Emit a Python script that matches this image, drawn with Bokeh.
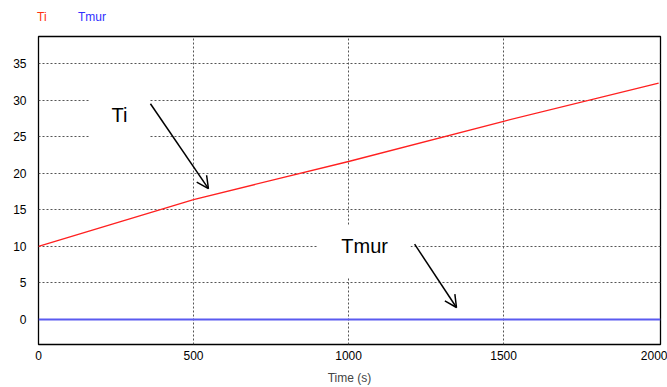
from bokeh.plotting import figure
from bokeh.models import Range1d, Label, Arrow, OpenHead, FixedTicker, Div
from bokeh.layouts import column
from bokeh.embed import file_html
from bokeh.resources import INLINE

# data
time_s = [0, 500, 1000, 1500, 2000]
ti_vals = [10.0, 16.4, 21.6, 27.1, 32.3]
tmur_time = [0, 2006]
tmur_vals = [0.0, 0.0]
x_ticks = [0, 500, 1000, 1500, 2000]
y_ticks = [0, 5, 10, 15, 20, 25, 30, 35]
series_names = ["Ti", "Tmur"]
series_colors = ["#ff3010", "#3030ff"]

FONT = "Liberation Sans, Arial, sans-serif"
HEADER_H = 24

legend_html = (
    f'<div style="position:relative;width:667px;height:{HEADER_H}px;'
    f'font-family:{FONT};font-size:12px;line-height:14px;">'
    f'<span style="position:absolute;left:37px;top:10px;color:{series_colors[0]}">{series_names[0]}</span>'
    f'<span style="position:absolute;left:78px;top:10px;color:{series_colors[1]}">{series_names[1]}</span>'
    '</div>'
)
header = Div(text=legend_html, width=667, height=HEADER_H, margin=0)

p = figure(width=667, height=387 - HEADER_H, output_backend="svg", toolbar_location=None,
           x_range=Range1d(0, 2006), y_range=Range1d(-3.42, 38.69),
           min_border_left=38, min_border_right=7, min_border_top=36 - HEADER_H,
           min_border_bottom=43, margin=0)

p.outline_line_color = "black"
p.outline_line_width = 1.3
p.outline_line_alpha = 1.0

for ax in (p.xaxis, p.yaxis):
    ax.axis_line_color = None
    ax.major_tick_line_color = None
    ax.minor_tick_line_color = None
    ax.major_tick_out = 0
    ax.major_tick_in = 0
    ax.major_label_text_font = FONT
    ax.major_label_text_font_size = "12px"
    ax.major_label_text_color = "black"

p.xaxis.ticker = FixedTicker(ticks=x_ticks)
p.yaxis.ticker = FixedTicker(ticks=y_ticks)
p.xaxis.major_label_standoff = 6
p.yaxis.major_label_standoff = 12
p.xaxis.axis_label = "Time (s)"
p.xaxis.axis_label_text_font = FONT
p.xaxis.axis_label_text_font_style = "normal"
p.xaxis.axis_label_text_font_size = "12px"
p.xaxis.axis_label_standoff = 8

p.xgrid.ticker = FixedTicker(ticks=[500, 1000, 1500])
p.ygrid.ticker = FixedTicker(ticks=[5, 10, 15, 20, 25, 30, 35])
for g in (p.xgrid, p.ygrid):
    g.grid_line_color = "#555555"
    g.grid_line_dash = "2 2"
    g.grid_line_width = 1

# white boxes behind callout labels (interrupt grid)
p.quad(left=[164], right=[358], top=[34.0], bottom=[21.1], fill_color="white", line_color=None)
p.quad(left=[900], right=[1200], top=[12.85], bottom=[5.74], fill_color="white", line_color=None)

p.line(time_s, ti_vals, line_color="#ff2020", line_width=1.3)
p.line(tmur_time, tmur_vals, line_color="#5a5af0", line_width=2)

# callouts
p.add_layout(Label(x=261, y=27.9, text="Ti", text_font=FONT, text_font_size="20px",
                   text_align="center", text_baseline="middle", text_color="black"))
p.add_layout(Label(x=1052, y=10.0, text="Tmur", text_font=FONT, text_font_size="20px",
                   text_align="center", text_baseline="middle", text_color="black"))
p.add_layout(Arrow(x_start=361, y_start=29.5, x_end=548, y_end=17.9,
                   line_color="black", line_width=1.5,
                   end=OpenHead(size=12, line_color="black", line_width=1.5)))
p.add_layout(Arrow(x_start=1213, y_start=10.3, x_end=1348, y_end=1.64,
                   line_color="black", line_width=1.5,
                   end=OpenHead(size=12, line_color="black", line_width=1.5)))

layout = column(header, p, spacing=0, margin=0)
open("out.html", "w").write(file_html(layout, INLINE))
